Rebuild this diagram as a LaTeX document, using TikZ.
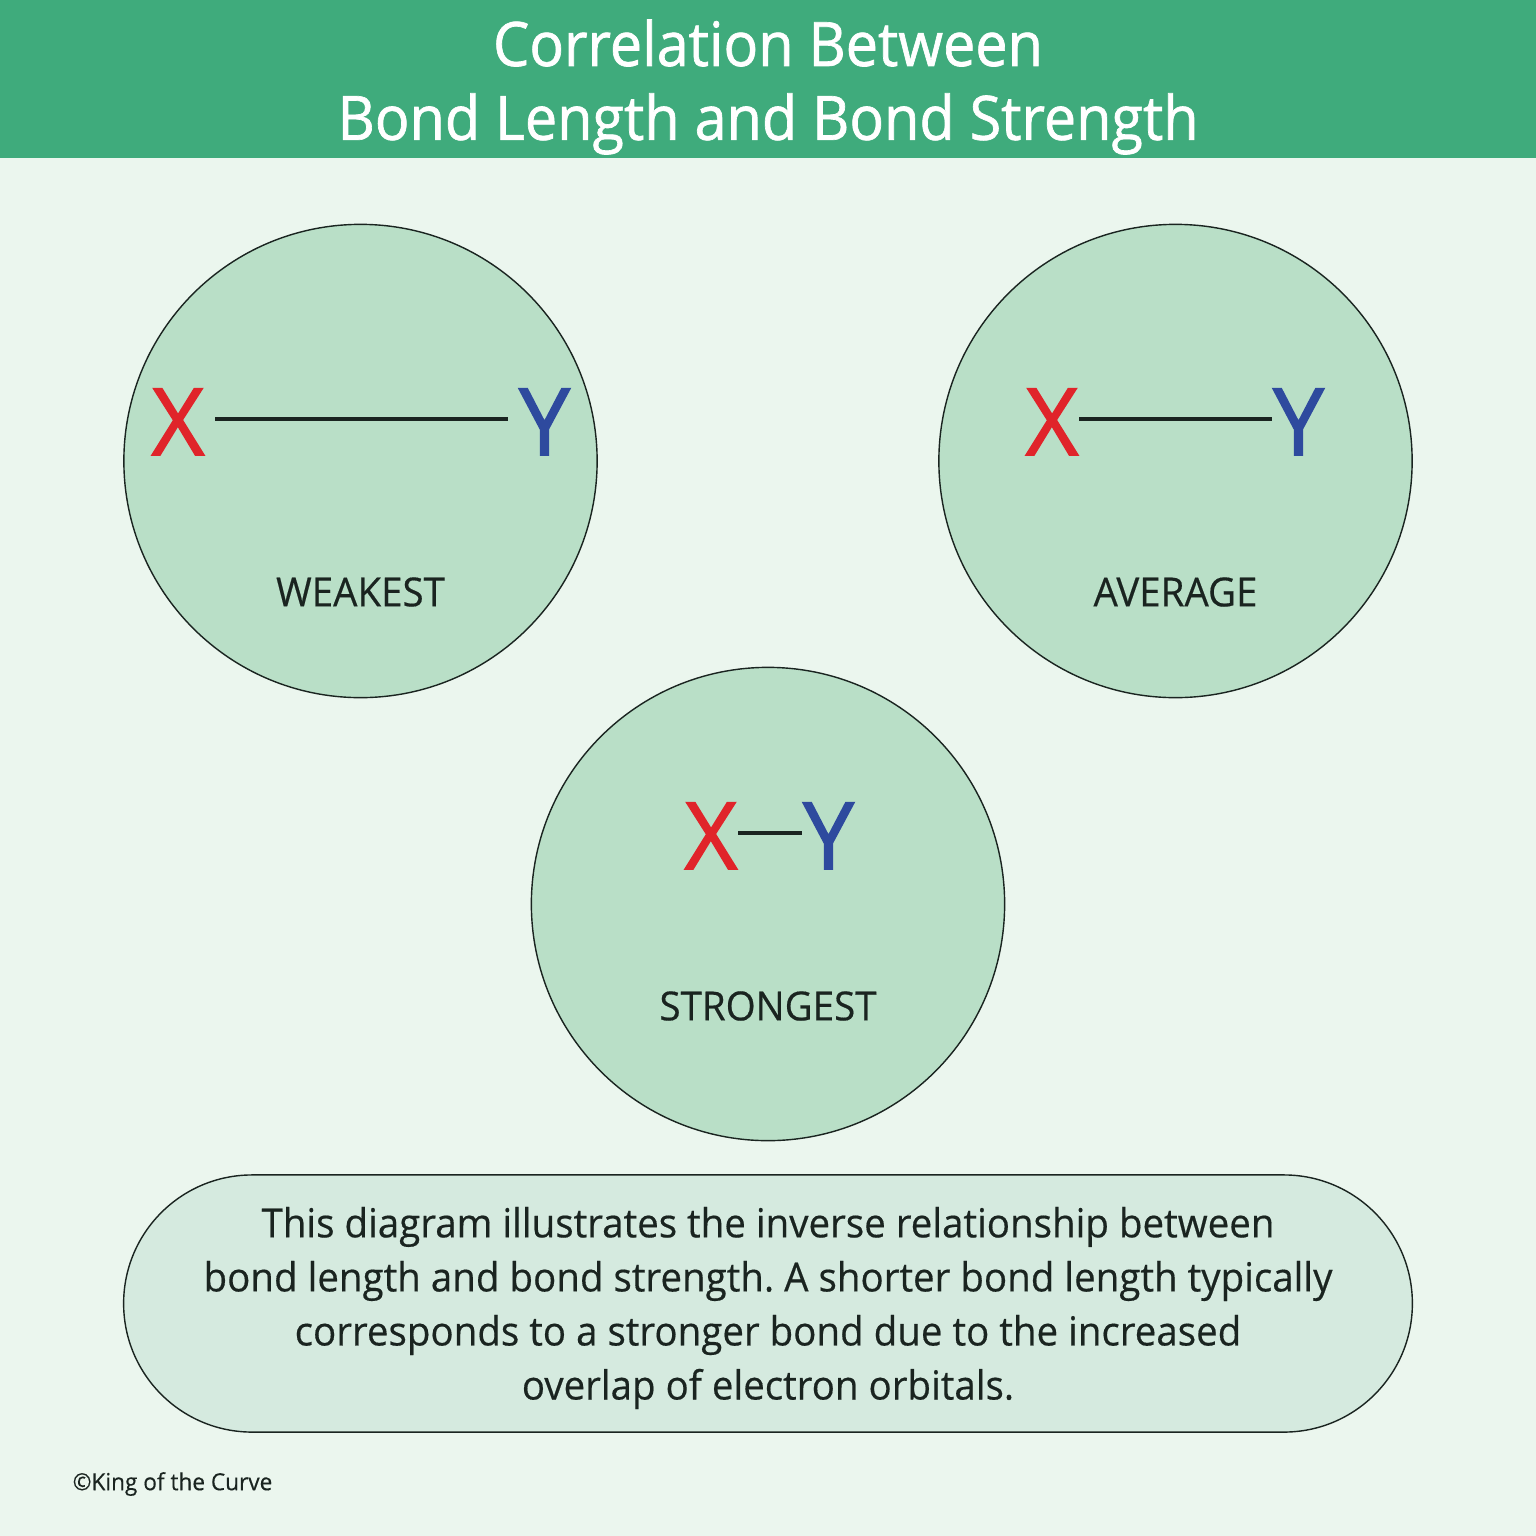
\documentclass[tikz,border=0pt]{standalone}
\usepackage{fontspec}
\setmainfont[FakeStretch=.96,FakeBold=.4]{Open Sans}
\newfontfamily\headfont[FakeStretch=.94,FakeBold=1.1]{Open Sans}
\newfontfamily\atomfont[FakeStretch=.98,FakeBold=1.6]{Open Sans}
\definecolor{headgreen}{HTML}{3FAB7C}
\definecolor{pagegreen}{HTML}{EBF6EE}
\definecolor{circgreen}{HTML}{B9DFC7}
\definecolor{pillgreen}{HTML}{D5EADF}
\definecolor{inkdark}{HTML}{1A2420}
\definecolor{atomred}{HTML}{E0242A}
\definecolor{atomblue}{HTML}{2E4A9E}
\tikzset{
	bondcirc/.style={circle,draw=inkdark,line width=.4pt,fill=circgreen,minimum size=4.73cm,inner sep=0pt},
	atomx/.style={text=atomred,font=\atomfont\fontsize{26.5}{26.5}\selectfont,inner ysep=0pt,inner xsep=0pt,text height=.72cm,text depth=0pt},
	atomy/.style={atomx,text=atomblue},
	strength/.style={text=inkdark,font=\fontsize{11.4}{14}\selectfont,inner sep=0pt},
	bond/.style={draw=inkdark,line width=1pt}
}
\frenchspacing
\begin{document}
\begin{tikzpicture}[x=.01cm,y=-.01cm]
	\def\pagew{1536}
	\useasboundingbox (0,0) rectangle (\pagew,\pagew);
	\fill[pagegreen] (0,0) rectangle (\pagew,\pagew);
	\fill[headgreen] (0,0) rectangle (\pagew,158);
	\node[text=white,align=center,font=\headfont\fontsize{17.4}{21}\selectfont,inner sep=0pt] (title) at (768,87) {Correlation Between\\Bond Length and Bond Strength};
	% circles
	\node[bondcirc] (weak) at (360.5,461) {};
	\node[bondcirc] (avg) at (1175.5,461) {};
	\node[bondcirc] (strong) at (768,904) {};
	% weakest
	\node[atomx,inner xsep=.1cm] (xa) at (178,419) {X};
	\node[atomy,inner xsep=.1cm] (ya) at (544.5,419) {Y};
	\draw[bond] (xa)--(ya);
	\node[strength] (wlabel) at (360.5,592) {WEAKEST};
	% average
	\node[atomx] (xb) at (1052,419) {X};
	\node[atomy] (yb) at (1298.5,419) {Y};
	\draw[bond] (xb)--(yb);
	\node[strength] (alabel) at (1175.5,592) {AVERAGE};
	% strongest
	\node[atomx] (xc) at (711,833) {X};
	\node[atomy] (yc) at (828.5,833) {Y};
	\draw[bond] (xc)--(yc);
	\node[strength] (slabel) at (768,1006) {STRONGEST};
	% note
	\node[draw=inkdark,line width=.4pt,fill=pillgreen,rounded corners=1.285cm,minimum width=12.88cm,minimum height=2.57cm,inner sep=0pt] (note) at (768,1303.5) {};
	\node[text=inkdark,align=center,inner sep=0pt,font=\fontsize{11.4}{15.37}\selectfont] (notetext) at (768,1308) {This diagram illustrates the inverse relationship between\\bond length and bond strength. A shorter bond length typically\\corresponds to a stronger bond due to the increased\\overlap of electron orbitals.};
	\node[text=inkdark,font=\fontsize{6.7}{8}\selectfont,anchor=west,inner sep=0pt] (copy) at (72,1484) {©King of the Curve};
\end{tikzpicture}
\end{document}
